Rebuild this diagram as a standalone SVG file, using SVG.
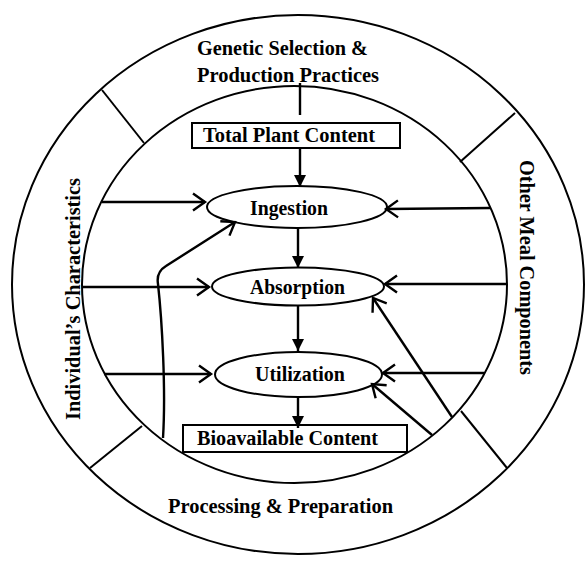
<svg xmlns="http://www.w3.org/2000/svg" width="587" height="561" viewBox="0 0 587 561">
<style>
.t{font-family:"Liberation Serif","Times New Roman",serif;font-weight:bold;font-size:20px;fill:#000}
.ln{fill:none;stroke:#000;stroke-width:2}
.ar{fill:none;stroke:#000;stroke-width:2.4}
.fa{marker-end:url(#fill)}
.oa{marker-end:url(#open)}
</style>
<defs>
<marker id="fill" markerUnits="userSpaceOnUse" markerWidth="16" markerHeight="16" viewBox="-14 -8 16 16" refX="0" refY="0" orient="auto">
<path d="M-12,-6 L0,0 L-12,6 Z" fill="#000"/>
</marker>
<marker id="open" markerUnits="userSpaceOnUse" markerWidth="20" markerHeight="22" viewBox="-15 -11 18 22" refX="0" refY="0" orient="auto">
<path d="M-12,-8.5 L0,0 L-12,8.5" fill="none" stroke="#000" stroke-width="2.4"/>
</marker>
</defs>
<rect width="587" height="561" fill="#fff"/>

<g id="rings">
<ellipse class="ln" cx="298" cy="284.5" rx="286" ry="269.5"/>
<ellipse class="ln" cx="294.5" cy="284.5" rx="212.5" ry="198.5"/>
<line class="ln" x1="102" y1="90" x2="144" y2="143"/>
<line class="ln" x1="515" y1="113" x2="460" y2="162"/>
<line class="ln" x1="90" y1="468" x2="142" y2="426"/>
<line class="ln" x1="507" y1="468" x2="461" y2="411"/>
</g>

<g id="genetic">
<text class="t" x="197" y="55" textLength="171" lengthAdjust="spacingAndGlyphs">Genetic Selection &amp;</text>
<text class="t" x="197" y="82" textLength="182" lengthAdjust="spacingAndGlyphs">Production Practices</text>
</g>
<g id="individual">
<text class="t" transform="translate(80,420) rotate(-90)" x="0" y="0" textLength="242" lengthAdjust="spacingAndGlyphs">Individual’s Characteristics</text>
</g>
<g id="othermeal">
<text class="t" transform="translate(520,160) rotate(90)" x="0" y="0" textLength="215" lengthAdjust="spacingAndGlyphs">Other Meal Components</text>
</g>
<g id="processing">
<text class="t" x="168" y="513" textLength="225" lengthAdjust="spacingAndGlyphs">Processing &amp; Preparation</text>
</g>

<g id="totalplant">
<rect class="ln" x="192" y="123" width="208" height="25"/>
<text class="t" x="203" y="142" textLength="172" lengthAdjust="spacingAndGlyphs">Total Plant Content</text>
</g>
<g id="ingestion">
<ellipse class="ln" cx="297" cy="207" rx="90" ry="21"/>
<text class="t" x="250" y="215" textLength="78" lengthAdjust="spacingAndGlyphs">Ingestion</text>
</g>
<g id="absorption">
<ellipse class="ln" cx="298" cy="286.5" rx="86" ry="19"/>
<text class="t" x="250" y="294" textLength="95" lengthAdjust="spacingAndGlyphs">Absorption</text>
</g>
<g id="utilization">
<ellipse class="ln" cx="298.5" cy="374.5" rx="83.5" ry="22.5"/>
<text class="t" x="255" y="381" textLength="90" lengthAdjust="spacingAndGlyphs">Utilization</text>
</g>
<g id="bioavailable">
<rect class="ln" x="183" y="425" width="224" height="27"/>
<text class="t" x="197" y="445" textLength="181" lengthAdjust="spacingAndGlyphs">Bioavailable Content</text>
</g>

<g id="connectors">
<line class="ar" x1="300" y1="83" x2="300" y2="115"/>
<line class="ar fa" x1="300" y1="148" x2="300" y2="187"/>
<line class="ar fa" x1="298" y1="228" x2="298" y2="268"/>
<line class="ar fa" x1="298" y1="305" x2="298" y2="351"/>
<line class="ar fa" x1="298" y1="397" x2="298" y2="428"/>

<line class="ar oa" x1="102" y1="202" x2="205" y2="202"/>
<line class="ar oa" x1="82" y1="287" x2="209" y2="287"/>
<line class="ar oa" x1="104" y1="374" x2="211" y2="374"/>

<line class="ar oa" x1="490" y1="208" x2="386" y2="209"/>
<line class="ar oa" x1="506" y1="284" x2="385" y2="284"/>
<line class="ar oa" x1="484" y1="373" x2="383" y2="373"/>

<line class="ar oa" x1="452" y1="417" x2="373" y2="298"/>
<line class="ar oa" x1="432" y1="435" x2="372" y2="384"/>

<path class="ar oa" d="M163,438 C166,390 162,320 158,284 Q156,272 166,266 L235,222"/>
</g>
</svg>
